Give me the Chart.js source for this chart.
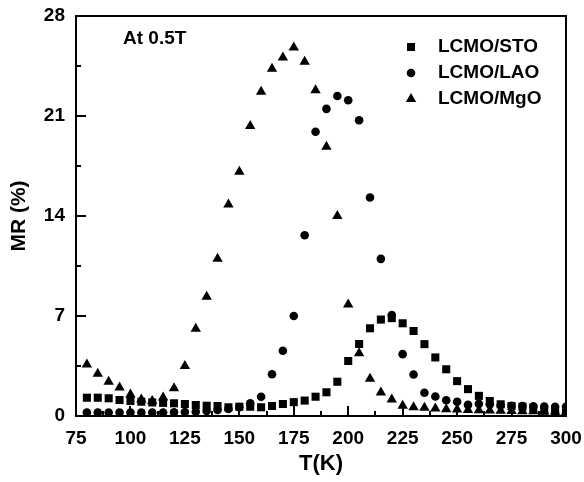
<!DOCTYPE html>
<html>
<head>
  <script src="https://cdn.jsdelivr.net/npm/chart.js"></script>
  <style>body { margin: 0; background: #fff; }</style>
</head>
<body>
  <canvas id="mrChart" width="584" height="482"></canvas>
  <div id="status"></div>
  <script>
    // temperature points (K), every 5 K
    const temps = [80, 85, 90, 95, 100, 105, 110, 115, 120, 125, 130, 135, 140, 145, 150,
      155, 160, 165, 170, 175, 180, 185, 190, 195, 200, 205, 210, 215, 220, 225,
      230, 235, 240, 245, 250, 255, 260, 265, 270, 275, 280, 285, 290, 295, 300];

    // MR (%)
    const mrSTO = [1.28, 1.28, 1.24, 1.12, 1.05, 1.0, 0.95, 0.92, 0.89, 0.84, 0.77, 0.72, 0.7, 0.61, 0.65,
      0.65, 0.61, 0.7, 0.84, 0.97, 1.08, 1.35, 1.66, 2.4, 3.85, 5.04, 6.14, 6.75, 6.85, 6.49,
      5.95, 5.03, 4.1, 3.27, 2.44, 1.88, 1.41, 1.05, 0.82, 0.7, 0.65, 0.54, 0.37, 0.3, 0.25];
    const mrLAO = [0.25, 0.25, 0.25, 0.25, 0.25, 0.25, 0.25, 0.25, 0.26, 0.28, 0.3, 0.35, 0.42, 0.5, 0.62,
      0.89, 1.35, 2.92, 4.57, 7.0, 12.65, 19.9, 21.5, 22.4, 22.1, 20.7, 15.3, 11.0, 7.07, 4.33,
      2.9, 1.63, 1.37, 1.1, 1.0, 0.78, 0.85, 0.8, 0.75, 0.72, 0.7, 0.68, 0.66, 0.65, 0.65];
    const mrMgO = [3.6, 2.95, 2.4, 2.0, 1.5, 1.15, 1.05, 1.3, 1.95, 3.5, 6.1, 8.35, 11.0, 14.8, 17.1,
      20.3, 22.7, 24.3, 25.1, 25.8, 24.8, 22.8, 18.85, 14.0, 7.8, 4.4, 2.6, 1.65, 1.15, 0.72,
      0.61, 0.58, 0.52, 0.48, 0.45, 0.42, 0.4, 0.38, 0.36, 0.35, 0.34, 0.33, 0.32, 0.31, 0.3];

    const seriesNames = ['LCMO/STO', 'LCMO/LAO', 'LCMO/MgO'];
    const fieldLabel = 'At 0.5T';

    const FONT = '"Liberation Sans", Arial, sans-serif';

    function toPoints(vals) {
      return temps.map((t, i) => ({ x: t, y: vals[i] }));
    }

    function drawMarker(c, style, x, y) {
      c.beginPath();
      if (style === 'rect') {
        c.rect(x - 4, y - 4, 8, 8);
      } else if (style === 'circle') {
        c.arc(x, y, 4.3, 0, Math.PI * 2);
      } else {
        const r = 6;
        c.moveTo(x, y - r);
        c.lineTo(x + r * 0.866, y + r / 2);
        c.lineTo(x - r * 0.866, y + r / 2);
        c.closePath();
      }
      c.fill();
    }

    function drawFrame(chart) {
      const c = chart.ctx, a = chart.chartArea;
      c.save();
      c.fillStyle = '#000';
      c.fillRect(a.left - 1, a.top - 1, a.right - a.left + 2, 2);
      c.fillRect(a.left - 1, a.bottom - 1, a.right - a.left + 2, 2);
      c.fillRect(a.left - 1, a.top - 1, 2, a.bottom - a.top + 2);
      c.fillRect(a.right - 1, a.top - 1, 2, a.bottom - a.top + 2);
      c.restore();
    }

    // inward ticks, frame, legend and the field note
    const framePlugin = {
      id: 'mrFrame',
      beforeDatasetsDraw(chart) {
        const c = chart.ctx, a = chart.chartArea;
        const xs = chart.scales.x, ys = chart.scales.y;
        c.save();
        c.fillStyle = '#000';
        for (let v = 75; v <= 300; v += 12.5) {
          const px = Math.round(xs.getPixelForValue(v));
          const len = (v % 25 === 0) ? 10 : 5;
          c.fillRect(px - 1, a.bottom - len, 2, len);
        }
        for (let v = 0; v <= 28; v += 3.5) {
          const py = Math.round(ys.getPixelForValue(v));
          const len = (v % 7 === 0) ? 10 : 5;
          c.fillRect(a.left, py - 1, len, 2);
        }
        c.restore();
      },
      afterDraw(chart) {
        drawFrame(chart);
        const c = chart.ctx;
        c.save();
        c.fillStyle = '#000';
        c.font = 'bold 19px ' + FONT;
        c.textBaseline = 'middle';
        c.textAlign = 'left';
        c.fillText(fieldLabel, 123, 39);
        const styles = ['rect', 'circle', 'triangle'];
        const rows = [47, 73, 99];
        seriesNames.forEach((name, i) => {
          drawMarker(c, styles[i], 411, rows[i]);
          c.fillText(name, 438, rows[i]);
        });
        c.restore();
      }
    };

    // software-backed context so every draw call lands in the picture
    const canvas = document.getElementById('mrChart');
    const ctx2d = canvas.getContext('2d', { willReadFrequently: true });

    const mrChart = new Chart(ctx2d, {
      type: 'scatter',
      data: {
        datasets: [{
          label: seriesNames[0],
          data: toPoints(mrSTO),
          pointStyle: 'rect',
          pointRadius: 5.7,
          backgroundColor: '#000',
          borderWidth: 0,
          order: 2,
          clip: 0
        }, {
          label: seriesNames[1],
          data: toPoints(mrLAO),
          pointStyle: 'circle',
          pointRadius: 4.3,
          backgroundColor: '#000',
          borderWidth: 0,
          order: 0,
          clip: 0
        }, {
          label: seriesNames[2],
          data: toPoints(mrMgO),
          pointStyle: 'triangle',
          pointRadius: 6,
          backgroundColor: '#000',
          borderWidth: 0,
          order: 1,
          clip: 0
        }]
      },
      options: {
        responsive: false,
        animation: false,
        layout: { padding: { top: 16, right: 18, left: 0, bottom: 0 } },
        plugins: {
          legend: { display: false },
          tooltip: { enabled: false }
        },
        scales: {
          x: {
            type: 'linear',
            min: 75,
            max: 300,
            grid: { display: false, drawTicks: false },
            border: { display: false },
            afterFit(scale) {
              scale.height = 66;
              scale.paddingLeft = 0;
              scale.paddingRight = 0;
            },
            ticks: {
              stepSize: 25,
              padding: 11,
              color: '#000',
              font: { family: FONT, size: 19, weight: 'bold' }
            },
            title: {
              display: true,
              text: 'T(K)',
              color: '#000',
              padding: { top: 0, bottom: 5 },
              font: { family: FONT, size: 22, weight: 'bold' }
            }
          },
          y: {
            min: 0,
            max: 28,
            grid: { display: false, drawTicks: false },
            border: { display: false },
            afterFit(scale) {
              scale.width = 76;
              scale.paddingTop = 0;
              scale.paddingBottom = 0;
            },
            ticks: {
              stepSize: 7,
              padding: 11,
              color: '#000',
              font: { family: FONT, size: 19, weight: 'bold' }
            },
            title: {
              display: true,
              text: 'MR (%)',
              color: '#000',
              padding: { top: 7, bottom: 0 },
              font: { family: FONT, size: 21, weight: 'bold' }
            }
          }
        }
      },
      plugins: [framePlugin]
    });

    // redraw once more after load and touch the page so the canvas is repainted
    setTimeout(() => {
      mrChart.draw();
      ctx2d.getImageData(0, 0, 1, 1);
      document.getElementById('status').textContent = '';
    }, 200);
  </script>
</body>
</html>
